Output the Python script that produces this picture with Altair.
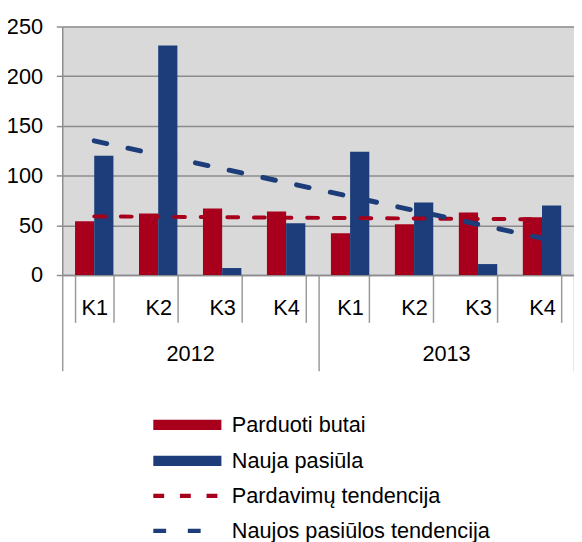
import altair as alt
import pandas as pd

quarters = ["2012 K1", "2012 K2", "2012 K3", "2012 K4", "2013 K1", "2013 K2", "2013 K3", "2013 K4"]
years = ["2012", "2013"]
sold = [54, 62, 67, 64, 42, 51, 63, 58]
supply = [120, 231, 7, 52, 124, 73, 11, 70]
series_names = ["Parduoti butai", "Nauja pasiūla"]
trend_names = ["Pardavimų tendencija", "Naujos pasiūlos tendencija"]
trend_quarters = ["2012 K1", "2013 K4"]
sold_trend = [59, 56]
supply_trend = [135, 37]
y_ticks = [0, 50, 100, 150, 200, 250]

RED = "#A8001C"
BLUE = "#1C3D7A"
GRID = "#8c8c8c"
SEP = "#9a9a9a"
FONT = "Liberation Sans, Arial, sans-serif"
FS = 22

bars_df = pd.DataFrame({
    "quarter": quarters * 2,
    "series": [series_names[0]] * len(quarters) + [series_names[1]] * len(quarters),
    "value": sold + supply,
})
trend_df = pd.DataFrame({
    "quarter": trend_quarters * 2,
    "trend": [trend_names[0]] * 2 + [trend_names[1]] * 2,
    "value": sold_trend + supply_trend,
})
year_df = pd.DataFrame({"year": years})

x_scale = alt.Scale(domain=quarters, paddingInner=0.4, paddingOuter=0.2)
y_scale = alt.Scale(domain=[0, 250], nice=False)

x_axis = alt.Axis(title=None, orient="bottom", labelExpr="split(datum.label, ' ')[1]",
                  tickBand="extent", tickSize=48, tickColor=SEP, tickWidth=1.5,
                  domain=True, domainColor=GRID, domainWidth=1.5,
                  labelPadding=-15, labelBaseline="middle", labelAngle=0,
                  labelFontSize=FS, labelFont=FONT, labelColor="black", grid=False)
y_axis = alt.Axis(title=None, values=y_ticks, grid=True, gridColor=GRID, gridWidth=1.5,
                  domain=True, domainColor=GRID, domainWidth=1.5,
                  ticks=True, tickSize=6, tickColor=GRID, tickWidth=1.5,
                  labelPadding=14, labelFontSize=FS, labelFont=FONT, labelColor="black")

legend_bars = alt.Legend(title=None, orient="none", legendX=90, legendY=393, direction="vertical",
                         symbolType="M-1,-0.6H7V0.6H-1Z", symbolSize=298, symbolStrokeWidth=0,
                         labelOffset=60, labelFontSize=FS, labelFont=FONT, labelColor="black",
                         labelLimit=400, rowPadding=14.5, padding=0)
legend_lines = alt.Legend(title=None, orient="none", legendX=90, legendY=465, direction="vertical",
                          symbolType="M-1,0H7", symbolSize=298, symbolStrokeWidth=4.5,
                          symbolFillColor="transparent",
                          labelOffset=60, labelFontSize=FS, labelFont=FONT, labelColor="black",
                          labelLimit=400, rowPadding=13.5, padding=0)

bars = alt.Chart(bars_df).mark_bar().encode(
    x=alt.X("quarter:N", scale=x_scale, axis=x_axis),
    xOffset=alt.XOffset("series:N", scale=alt.Scale(domain=series_names, paddingInner=0, paddingOuter=0)),
    y=alt.Y("value:Q", scale=y_scale, axis=y_axis),
    fill=alt.Fill("series:N", scale=alt.Scale(domain=series_names, range=[RED, BLUE]), legend=legend_bars),
)

trend_enc = dict(
    x=alt.X("quarter:N", scale=x_scale, axis=x_axis),
    y=alt.Y("value:Q", scale=y_scale, axis=y_axis),
    stroke=alt.Stroke("trend:N", scale=alt.Scale(domain=trend_names, range=[RED, BLUE]), legend=legend_lines),
    strokeDash=alt.StrokeDash("trend:N", scale=alt.Scale(domain=trend_names, range=[[11, 16], [13, 22]]),
                              legend=legend_lines),
)
red_line = alt.Chart(trend_df).transform_filter(alt.datum.trend == trend_names[0]).mark_line(
    strokeWidth=4, strokeCap="round").encode(**trend_enc)
blue_line = alt.Chart(trend_df).transform_filter(alt.datum.trend == trend_names[1]).mark_line(
    strokeWidth=5, strokeCap="round").encode(**trend_enc)

year_layer = alt.Chart(year_df).mark_bar(opacity=0).encode(
    x=alt.X("year:N", scale=alt.Scale(domain=years, paddingInner=0, paddingOuter=0),
            axis=alt.Axis(title=None, orient="bottom", tickBand="extent", tickSize=97, tickColor=SEP,
                          tickWidth=1.5, domain=False, labelPadding=-17, labelBaseline="middle",
                          labelAngle=0, labelFontSize=FS, labelFont=FONT, labelColor="black", grid=False)),
)

chart = alt.layer(alt.layer(bars, red_line, blue_line), year_layer).resolve_scale(
    x="independent"
).properties(
    width=519, height=252,
    autosize=alt.AutoSizeParams(type="none"),
    padding={"left": 55, "top": 15, "right": 0, "bottom": 267},
).configure(font=FONT).configure_view(stroke=None, fill="#d9d9d9")

chart.save("out.html", embed_options={"renderer": "svg", "actions": False})
